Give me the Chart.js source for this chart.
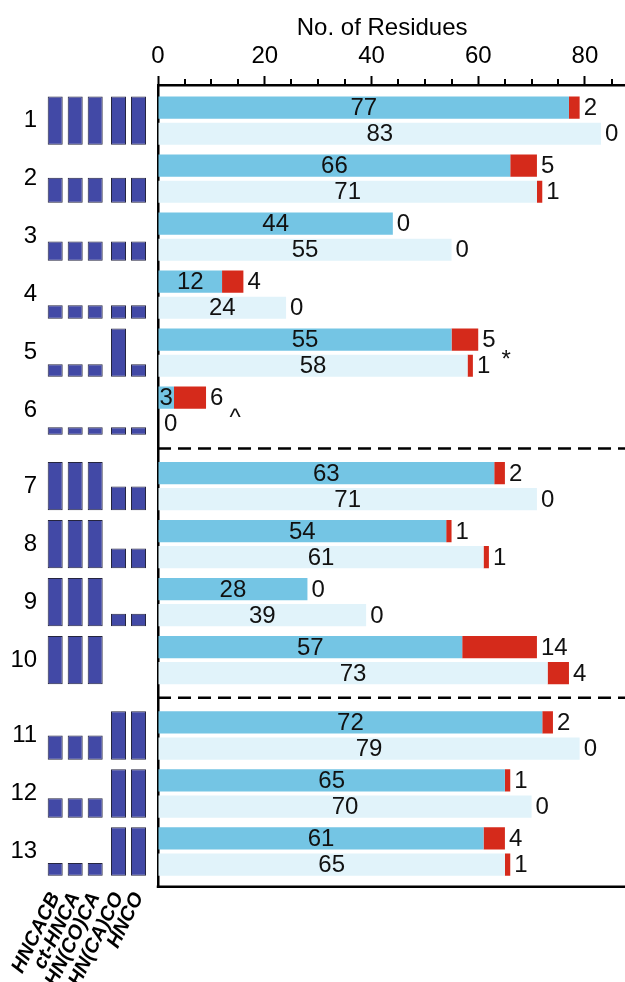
<!DOCTYPE html>
<html>
<head>
<meta charset="utf-8">
<script src="https://cdn.jsdelivr.net/npm/chart.js@4.4.1/dist/chart.umd.min.js"></script>
<style>
  html, body { margin: 0; padding: 0; background: #fff; }
  #wrap { position: relative; width: 625px; height: 982px; overflow: hidden; }
  #wrap canvas { position: absolute; top: 0; left: 0; }
</style>
</head>
<body>
<div id="wrap">
  <canvas id="bars" width="625" height="982"></canvas>
  <canvas id="glyphs" width="157" height="982"></canvas>
</div>
<script>
// ---- data -------------------------------------------------------------
const rowLabels = ['1', '2', '3', '4', '5', '6', '7', '8', '9', '10', '11', '12', '13'];
const sectionSizes = [6, 4, 3];                       // rows per block, split by dashed lines

const assignedA = [77, 66, 44, 12, 55, 3, 63, 54, 28, 57, 72, 65, 61];
const extraA    = [ 2,  5,  0,  4,  5, 6,  2,  1,  0, 14,  2,  1,  4];
const assignedB = [83, 71, 55, 24, 58, 0, 71, 61, 39, 73, 79, 70, 65];
const extraB    = [ 0,  1,  0,  0,  1, 0,  0,  1,  0,  4,  0,  0,  1];
const notes     = ['', '', '', '', '*', '^', '', '', '', '', '', '', ''];

const experiments = ['HNCACB', 'ct-HNCA', 'HN(CO)CA', 'HN(CA)CO', 'HNCO'];
const glyphHeights = [
  [1.00, 1.00, 1.00, 1.00, 1.00],
  [0.52, 0.52, 0.52, 0.52, 0.52],
  [0.40, 0.40, 0.40, 0.40, 0.40],
  [0.28, 0.28, 0.28, 0.28, 0.28],
  [0.26, 0.26, 0.26, 1.00, 0.26],
  [0.16, 0.16, 0.16, 0.16, 0.16],
  [1.00, 1.00, 1.00, 0.49, 0.49],
  [1.00, 1.00, 1.00, 0.41, 0.41],
  [1.00, 1.00, 1.00, 0.26, 0.26],
  [1.00, 1.00, 1.00, 0.00, 0.00],
  [0.50, 0.50, 0.50, 1.00, 1.00],
  [0.40, 0.40, 0.40, 1.00, 1.00],
  [0.26, 0.26, 0.26, 1.00, 1.00]
];

const xTickValues = [0, 20, 40, 60, 80];
const xAxisTitle = 'No. of Residues';

// ---- layout -----------------------------------------------------------
const FONT = '"Liberation Sans", Arial, Helvetica, sans-serif';
const COL_DARK = '#74c5e4';
const COL_LIGHT = '#e1f3fa';
const COL_RED = '#d52a1b';
const COL_GLYPH = '#4249a6';
const COL_GLYPH_EDGE = '#25253f';

const SECTION_GAP = 0.3;
const rowPos = [];
sectionSizes.forEach((n, s) => {
  for (let k = 0; k < n; k++) rowPos.push(rowPos.length + 1 + s * SECTION_GAP);
});
const sectionBreaks = [];
{
  let idx = 0;
  sectionSizes.slice(0, -1).forEach(n => {
    idx += n;
    sectionBreaks.push((rowPos[idx - 1] + rowPos[idx]) / 2);
  });
}
const Y_MIN = rowPos[0] - 0.616;
const Y_MAX = rowPos[rowPos.length - 1] + 0.607;

const CAT_PCT = 0.9, BAR_PCT = 0.85;
const HALF_GROUP = CAT_PCT / 2 - (CAT_PCT / 2) * (1 - BAR_PCT) / 2;   // centre to outer bar edge

const PLOT_LEFT = 158, PLOT_TOP = 85, PLOT_BOTTOM = 886.7, H = 982;
const X_MAX = 87.5;

// experiment slots: the three CA experiments, then the two CO experiments
const expPos = experiments.map((_, i) => i + (i >= 3 ? 0.165 : 0));

// ---- main horizontal bar chart ---------------------------------------
const series = (vals, color, stack) => ({
  data: rowPos.map((p, i) => ({ x: vals[i], y: p })),
  backgroundColor: color,
  borderWidth: 0,
  stack
});

const decorPlugin = {
  id: 'decor',
  afterDraw(chart) {
    const { ctx, chartArea, scales } = chart;
    const xs = scales.x, ys = scales.y;
    ctx.save();
    // minor ticks
    ctx.strokeStyle = '#000';
    ctx.lineWidth = 2;
    for (let v = 5; v < X_MAX; v += 5) {
      if (xTickValues.includes(v)) continue;
      const px = Math.round(xs.getPixelForValue(v));
      ctx.beginPath();
      ctx.moveTo(px, chartArea.top - 6);
      ctx.lineTo(px, chartArea.top);
      ctx.stroke();
    }
    // axis title
    ctx.fillStyle = '#000';
    ctx.font = '24px ' + FONT;
    ctx.textAlign = 'center';
    ctx.textBaseline = 'alphabetic';
    ctx.fillText(xAxisTitle, xs.getPixelForValue(42), 35);
    // bottom edge of the frame
    ctx.lineWidth = 2.5;
    ctx.beginPath();
    ctx.moveTo(chartArea.left - 1.25, chartArea.bottom);
    ctx.lineTo(chartArea.right, chartArea.bottom);
    ctx.stroke();
    // dashed separators between blocks
    ctx.setLineDash([13, 7]);
    sectionBreaks.forEach(v => {
      const py = ys.getPixelForValue(v);
      ctx.beginPath();
      ctx.moveTo(chartArea.left, py);
      ctx.lineTo(chartArea.right, py);
      ctx.stroke();
    });
    ctx.setLineDash([]);

    // value labels
    ctx.font = '24px ' + FONT;
    ctx.fillStyle = '#111';
    ctx.textBaseline = 'middle';
    const pairs = [[0, 1, assignedA, extraA], [2, 3, assignedB, extraB]];
    const countEnds = [];
    pairs.forEach(([bi, ei, vals, ex], pi) => {
      const mb = chart.getDatasetMeta(bi), me = chart.getDatasetMeta(ei);
      rowPos.forEach((_, i) => {
        const b = mb.data[i], e = me.data[i];
        if (vals[i] > 0) {
          ctx.textAlign = 'center';
          ctx.fillText(String(vals[i]), (b.base + b.x) / 2, b.y + 1);
        }
        ctx.textAlign = 'left';
        const tx = Math.max(e.x, chartArea.left + 2) + 4;
        ctx.fillText(String(ex[i]), tx, e.y + 1);
        if (pi === 0) countEnds[i] = tx + ctx.measureText(String(ex[i])).width;
      });
    });
    // footnote marks
    ctx.textAlign = 'left';
    ctx.textBaseline = 'alphabetic';
    notes.forEach((n, i) => {
      if (!n) return;
      const cy = ys.getPixelForValue(rowPos[i]);
      ctx.fillText(n, countEnds[i] + 6, cy + 14);
    });
    ctx.restore();
  }
};

new Chart(document.getElementById('bars'), {
  type: 'bar',
  data: {
    datasets: [
      series(assignedA, COL_DARK, 'a'),
      series(extraA, COL_RED, 'a'),
      series(assignedB, COL_LIGHT, 'b'),
      series(extraB, COL_RED, 'b')
    ]
  },
  options: {
    indexAxis: 'y',
    responsive: false,
    animation: false,
    layout: { padding: { left: PLOT_LEFT, top: 0, right: 0, bottom: H - PLOT_BOTTOM } },
    datasets: { bar: { categoryPercentage: CAT_PCT, barPercentage: BAR_PCT } },
    plugins: { legend: { display: false }, tooltip: { enabled: false } },
    scales: {
      x: {
        type: 'linear', position: 'top', min: 0, max: X_MAX, stacked: true,
        afterBuildTicks: s => { s.ticks = xTickValues.map(v => ({ value: v })); },
        afterFit: s => { s.height = PLOT_TOP; s.paddingLeft = 0; s.paddingRight = 0; },
        grid: { display: true, drawOnChartArea: false, drawTicks: true, tickLength: 9, tickWidth: 2, tickColor: '#000' },
        border: { display: true, color: '#000', width: 2.5 },
        ticks: { color: '#000', font: { family: FONT, size: 24 }, padding: 5, maxRotation: 0, autoSkip: false }
      },
      y: {
        type: 'linear', reverse: true, min: Y_MIN, max: Y_MAX, offset: false,
        afterBuildTicks: s => { s.ticks = rowPos.map(v => ({ value: v })); },
        afterFit: s => { s.width = 0; },
        grid: { display: false, offset: false },
        ticks: { display: false },
        border: { display: true, color: '#000', width: 2.5 }
      }
    }
  },
  plugins: [decorPlugin]
});

// ---- experiment glyphs beside each row -------------------------------
const glyphData = [];
rowPos.forEach((p, r) => {
  glyphHeights[r].forEach((h, e) => {
    if (h > 0) glyphData.push({ x: expPos[e], y: [p + HALF_GROUP, p + HALF_GROUP - h * 2 * HALF_GROUP] });
  });
});

new Chart(document.getElementById('glyphs'), {
  type: 'bar',
  data: {
    datasets: [{
      data: glyphData,
      backgroundColor: COL_GLYPH,
      borderColor: COL_GLYPH_EDGE,
      borderWidth: 1,
      borderSkipped: false,
      categoryPercentage: 1,
      barPercentage: 0.75
    }]
  },
  options: {
    responsive: false,
    animation: false,
    layout: { padding: { top: PLOT_TOP, left: 0, right: 8.5, bottom: 0 } },
    plugins: { legend: { display: false }, tooltip: { enabled: false } },
    scales: {
      x: {
        type: 'linear', min: -0.5, max: expPos[expPos.length - 1] + 0.5, offset: false,
        afterBuildTicks: s => { s.ticks = expPos.map(v => ({ value: v })); },
        afterFit: s => { s.height = H - PLOT_BOTTOM; s.paddingLeft = 0; s.paddingRight = 0; },
        grid: { display: false, drawTicks: false, offset: false },
        border: { display: false },
        ticks: {
          autoSkip: false, minRotation: 64, maxRotation: 64, padding: 2, color: '#000',
          font: { family: FONT, size: 20, style: 'italic', weight: 'bold' },
          callback: (v, i) => experiments[i]
        }
      },
      y: {
        type: 'linear', reverse: true, min: Y_MIN, max: Y_MAX,
        afterBuildTicks: s => { s.ticks = rowPos.map(v => ({ value: v })); },
        afterFit: s => { s.width = 45.2; },
        grid: { display: false, drawTicks: false },
        border: { display: false },
        ticks: { padding: 8, color: '#000', font: { family: FONT, size: 24 }, callback: (v, i) => rowLabels[i] }
      }
    }
  }
});
</script>
</body>
</html>
